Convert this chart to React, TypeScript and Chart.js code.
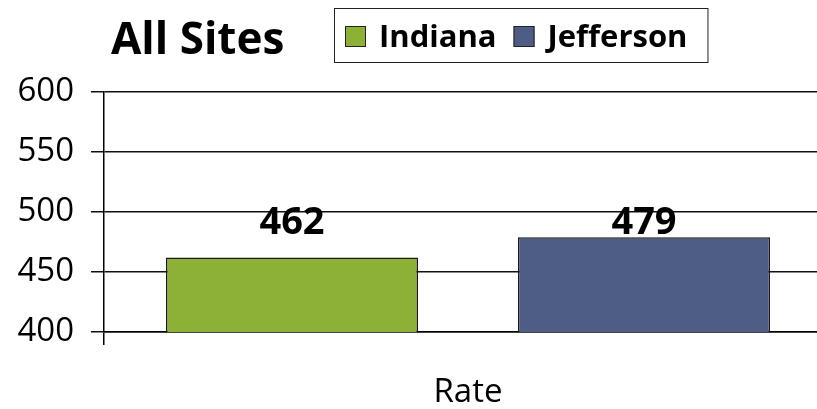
import React, { useEffect, useRef } from 'react';
import { Chart, registerables } from 'chart.js';

Chart.register(...registerables);

const chartTitle = 'All Sites';
const categories = ['Rate'];
const seriesNames = ['Indiana', 'Jefferson'];
const indianaValues = [462];
const jeffersonValues = [479];
const seriesColors = ['#8DB036', '#4D5D85'];
const yMin = 400;
const yMax = 600;
const yStep = 50;

const FONT = '"Open Sans", "DejaVu Sans", sans-serif';

const overlayPlugin = {
  id: 'overlay',
  afterDraw(chart: any) {
    const ctx = chart.ctx as CanvasRenderingContext2D;
    ctx.save();
    // Title
    ctx.font = `bold 44px ${FONT}`;
    ctx.fillStyle = '#000';
    ctx.textAlign = 'left';
    ctx.textBaseline = 'alphabetic';
    ctx.fillText(chartTitle, 111, 54);

    // Legend
    ctx.font = `bold 31px ${FONT}`;
    const boxLeft = 334, boxTop = 8, boxBottom = 62;
    const pad = 11, sq = 21, gapSq = 13, gapItem = 17, padRight = 20;
    const baseline = 47;
    let x = boxLeft + pad;
    chart.data.datasets.forEach((ds: any) => {
      ctx.fillStyle = ds.backgroundColor;
      ctx.fillRect(x, baseline - sq, sq, sq);
      ctx.strokeStyle = '#222';
      ctx.lineWidth = 1;
      ctx.strokeRect(x + 0.5, baseline - sq + 0.5, sq - 1, sq - 1);
      x += sq + gapSq;
      ctx.fillStyle = '#000';
      ctx.fillText(ds.label, x, baseline);
      x += ctx.measureText(ds.label).width + gapItem;
    });
    const boxRight = x - gapItem + padRight;
    ctx.strokeStyle = '#222';
    ctx.lineWidth = 1;
    ctx.strokeRect(boxLeft + 0.5, boxTop + 0.5, boxRight - boxLeft, boxBottom - boxTop);

    // Data labels
    const bars: { x: number; y: number; v: number }[] = [];
    chart.data.datasets.forEach((ds: any, di: number) => {
      const meta = chart.getDatasetMeta(di);
      meta.data.forEach((el: any, i: number) => {
        bars.push({ x: el.x, y: el.y, v: ds.data[i] });
      });
    });
    const topY = Math.min(...bars.map((b) => b.y));
    ctx.font = `bold 38px ${FONT}`;
    ctx.textAlign = 'center';
    ctx.fillStyle = '#000';
    bars.forEach((b) => ctx.fillText(String(b.v), b.x, topY - 3));
    ctx.restore();
  },
};

export default function App() {
  const ref = useRef<HTMLCanvasElement>(null);
  useEffect(() => {
    if (!ref.current) return;
    const chart = new Chart(ref.current, {
      type: 'bar',
      data: {
        labels: categories,
        datasets: [
          {
            label: seriesNames[0],
            data: indianaValues,
            backgroundColor: seriesColors[0],
            borderColor: '#1a1a1a',
            borderWidth: 1.5,
          },
          {
            label: seriesNames[1],
            data: jeffersonValues,
            backgroundColor: seriesColors[1],
            borderColor: '#1a1a1a',
            borderWidth: 1.5,
          },
        ],
      },
      options: {
        responsive: false,
        animation: false,
        layout: { padding: { top: 92, left: 0, right: 0, bottom: 0 } },
        plugins: {
          legend: { display: false },
          title: { display: false },
          tooltip: { enabled: false },
        },
        datasets: {
          bar: { categoryPercentage: 0.967, barPercentage: 0.716 },
        },
        scales: {
          x: {
            grid: {
              display: true,
              drawOnChartArea: false,
              drawTicks: true,
              tickLength: 13,
              color: '#000',
              lineWidth: 1.5,
            },
            border: { display: true, color: '#000', width: 1.5 },
            ticks: {
              color: '#000',
              font: { family: FONT, size: 33 },
              padding: 28,
            },
            afterFit: (s: any) => {
              s.height = 77;
            },
          },
          y: {
            min: yMin,
            max: yMax,
            ticks: {
              stepSize: yStep,
              color: '#000',
              font: { family: FONT, size: 33 },
              padding: 17,
            },
            grid: {
              color: '#111',
              lineWidth: 1.5,
              tickLength: 13,
            },
            border: { display: true, color: '#000', width: 1.5 },
            afterFit: (s: any) => {
              s.width = 104;
            },
          },
        },
      },
      plugins: [overlayPlugin],
    });
    return () => chart.destroy();
  }, []);

  return (
    <div
      style={{
        position: 'fixed',
        left: 0,
        top: 0,
        width: 817,
        height: 409,
        overflow: 'hidden',
        background: '#fff',
      }}
    >
      <canvas ref={ref} width={832} height={409} style={{ display: 'block' }} />
    </div>
  );
}
